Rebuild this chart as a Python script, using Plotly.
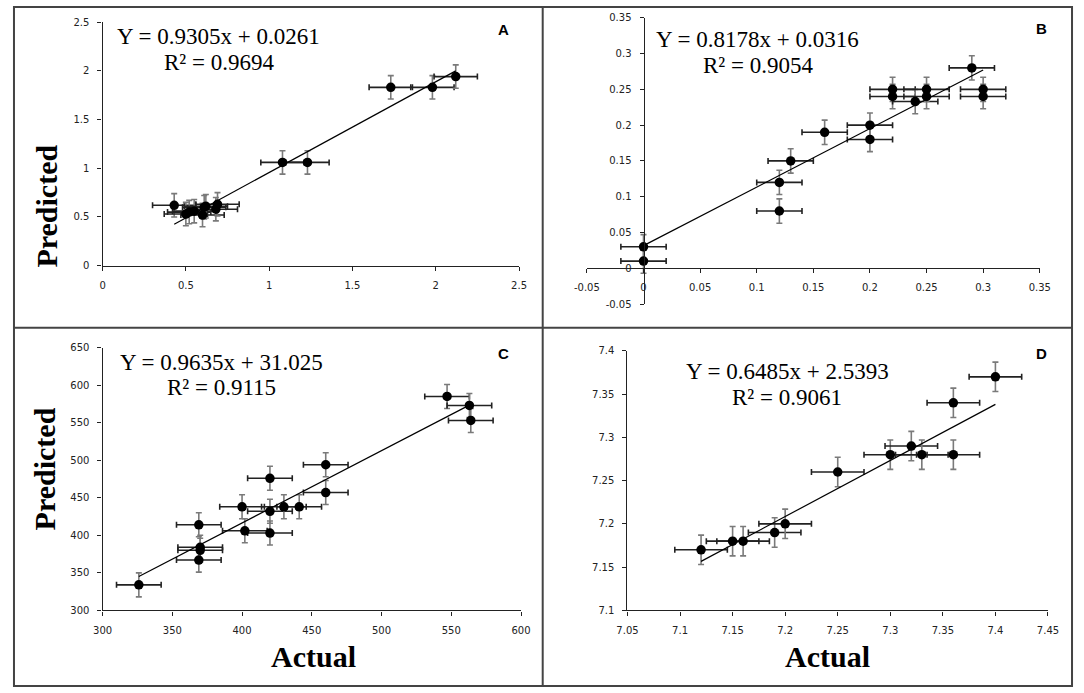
import plotly.graph_objects as go
import numpy as np

# ---------------- data ----------------
# Panel A
A_actual = [0.43, 0.50, 0.52, 0.55, 0.60, 0.61, 0.62, 0.68, 0.69, 1.08, 1.23, 1.73, 1.98, 2.12]
A_pred = [0.62, 0.53, 0.55, 0.56, 0.52, 0.60, 0.61, 0.58, 0.63, 1.06, 1.06, 1.83, 1.83, 1.94]
A_xerr = 0.13
A_yerr = 0.12
A_fit = [0.9305, 0.0261]
A_r2 = "0.9694"

# Panel B
B_actual = [0.00, 0.00, 0.12, 0.12, 0.13, 0.16, 0.20, 0.20, 0.22, 0.22, 0.24, 0.25, 0.25, 0.29, 0.30, 0.30]
B_pred = [0.03, 0.01, 0.12, 0.08, 0.15, 0.19, 0.20, 0.18, 0.25, 0.24, 0.233, 0.25, 0.24, 0.28, 0.25, 0.24]
B_xerr = 0.02
B_yerr = 0.017
B_fit = [0.8178, 0.0316]
B_r2 = "0.9054"
B_ticks = [-0.05, 0, 0.05, 0.1, 0.15, 0.2, 0.25, 0.3, 0.35]
B_ticktext = ["-0.05", "0", "0.05", "0.1", "0.15", "0.2", "0.25", "0.3", "0.35"]

# Panel C
C_actual = [326, 369, 370, 370, 369, 402, 400, 420, 420, 420, 430, 441, 460, 460, 547, 563, 564]
C_pred = [334, 367, 380, 384, 414, 406, 438, 403, 432, 476, 438, 438, 494, 457, 585, 573, 553]
C_xerr = 16
C_yerr = 16
C_fit = [0.9635, 31.025]
C_r2 = "0.9115"

# Panel D
D_actual = [7.12, 7.15, 7.16, 7.19, 7.20, 7.25, 7.30, 7.32, 7.33, 7.36, 7.36, 7.40]
D_pred = [7.17, 7.18, 7.18, 7.19, 7.20, 7.26, 7.28, 7.29, 7.28, 7.28, 7.34, 7.37]
D_xerr = 0.025
D_yerr = 0.017
D_fit = [0.6485, 2.5393]
D_r2 = "0.9061"

# ---------------- layout helpers ----------------
W, H = 1084, 693


def fx(p):
    return p / W


def fy(p):
    return 1 - p / H


fig = go.Figure()

panels = [
    ("x", "y", A_actual, A_pred, A_xerr, A_yerr, A_fit),
    ("x2", "y2", B_actual, B_pred, B_xerr, B_yerr, B_fit),
    ("x3", "y3", C_actual, C_pred, C_xerr, C_yerr, C_fit),
    ("x4", "y4", D_actual, D_pred, D_xerr, D_yerr, D_fit),
]

for xa, ya, xs, ys, xe, ye, fit in panels:
    fig.add_trace(go.Scatter(
        x=xs, y=ys, mode="markers", xaxis=xa, yaxis=ya,
        marker=dict(color="black", size=9.5),
        error_x=dict(type="constant", value=xe, color="#222222", thickness=1.6, width=3),
        error_y=dict(type="constant", value=ye, color="#7a7a7a", thickness=1.6, width=3),
        showlegend=False, cliponaxis=False,
    ))
    lx = np.array([min(xs), max(xs)])
    fig.add_trace(go.Scatter(
        x=lx, y=fit[0] * lx + fit[1], mode="lines", xaxis=xa, yaxis=ya,
        line=dict(color="black", width=1.2), showlegend=False,
    ))

tickfont = dict(family="DejaVu Sans", size=10, color="#222222")
axis_common = dict(
    showgrid=False, zeroline=False, showline=True, linecolor="#222222", linewidth=1.4,
    ticks="outside", ticklen=4, tickcolor="#222222", tickwidth=1.2, tickfont=tickfont,
    fixedrange=True,
)

fig.update_layout(
    width=W, height=H,
    margin=dict(l=0, r=0, t=0, b=0),
    paper_bgcolor="white", plot_bgcolor="white",
    xaxis=dict(domain=[fx(91.6), fx(517.5)], range=[0, 2.5], dtick=0.5, anchor="y",
               ticklabelstandoff=6, **axis_common),
    yaxis=dict(domain=[fy(264.3), fy(16.3)], range=[0, 2.5], dtick=0.5, anchor="x",
               ticklabelstandoff=6, **axis_common),
    xaxis2=dict(domain=[fx(586.9), fx(1050)], range=[-0.05, 0.35], tickvals=B_ticks,
                ticktext=B_ticktext, anchor="free", position=fy(266.7),
                ticklabelstandoff=6, **axis_common),
    yaxis2=dict(domain=[fy(303.3), fy(12)], range=[-0.05, 0.35], tickvals=B_ticks,
                ticktext=B_ticktext, anchor="free", position=fx(645),
                ticklabelstandoff=6, **axis_common),
    xaxis3=dict(domain=[fx(91.6), fx(519.5)], range=[300, 600], dtick=50, anchor="y3",
                ticklabelstandoff=6, **axis_common),
    yaxis3=dict(domain=[fy(615), fy(347.7)], range=[300, 650], dtick=50, anchor="x3",
                ticklabelstandoff=6, **axis_common),
    xaxis4=dict(domain=[fx(628.4), fx(1058.4)], range=[7.05, 7.45], dtick=0.05, anchor="y4",
                ticklabelstandoff=6, **axis_common),
    yaxis4=dict(domain=[fy(615), fy(351)], range=[7.1, 7.4], dtick=0.05, anchor="x4",
                ticklabelstandoff=6, **axis_common),
)

eq_font = dict(family="Liberation Serif", size=23, color="black")
lab_font = dict(family="Liberation Sans", size=15, color="black", weight="bold")
title_font = dict(family="Liberation Serif", size=30, color="black", weight="bold")

annos = []


def add_text(text, x, y, font, **kw):
    annos.append(dict(text=text, x=fx(x), y=fy(y), xref="paper", yref="paper",
                      showarrow=False, font=font, xanchor="center", yanchor="middle", **kw))


eq_info = [
    (A_fit, A_r2, 210.5, 30.7, 57.3, "{:.4f}"),
    (B_fit, B_r2, 761.5, 34.3, 61.0, "{:.4f}"),
    (C_fit, C_r2, 213.0, 362.3, 388.3, "{:.3f}"),
    (D_fit, D_r2, 791.7, 371.7, 398.3, "{:.4f}"),
]
for fit, r2, cx, y1, y2, ifmt in eq_info:
    add_text("Y = {:.4f}x + {}".format(fit[0], ifmt.format(fit[1])), cx, y1, eq_font)
    add_text("R\u00b2 = {}".format(r2), cx, y2, eq_font)

add_text("A", 502, 23.5, lab_font)
add_text("B", 1051.5, 23, lab_font)
add_text("C", 502, 354, lab_font)
add_text("D", 1051.5, 354, lab_font)

add_text("Predicted", 34.6, 203.3, title_font, textangle=-90)
add_text("Predicted", 32.5, 470.8, title_font, textangle=-90)
add_text("Actual", 306.8, 662.3, title_font)
add_text("Actual", 833, 662.3, title_font)

fig.update_layout(annotations=annos)

border = dict(color="#444444", width=2)
fig.update_layout(shapes=[
    dict(type="rect", xref="paper", yref="paper", x0=fx(1), x1=fx(1083), y0=fy(692), y1=fy(1),
         line=border),
    dict(type="line", xref="paper", yref="paper", x0=0, x1=1, y0=fy(327.3), y1=fy(327.3),
         line=border),
    dict(type="line", xref="paper", yref="paper", x0=fx(541.7), x1=fx(541.7), y0=0, y1=1,
         line=border),
])

fig.write_html(
    "out.html",
    config={"displayModeBar": False},
    post_script="document.body.style.margin='0px';document.body.style.overflow='hidden';",
)
